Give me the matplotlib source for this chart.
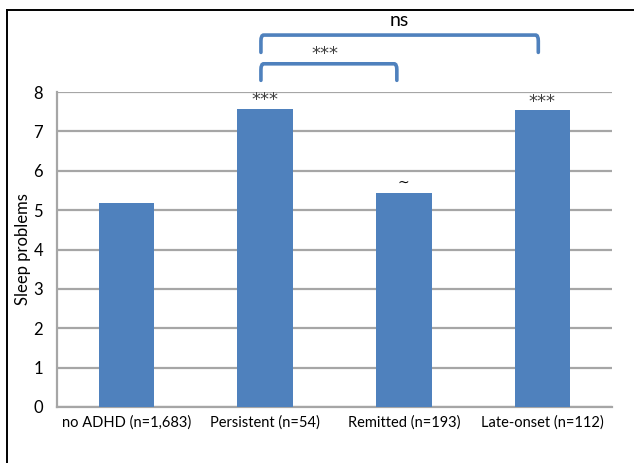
import matplotlib
matplotlib.use("Agg")
import matplotlib.pyplot as plt
from matplotlib.lines import Line2D
from matplotlib.path import Path
from matplotlib.patches import PathPatch

plt.rcParams['font.family'] = ['Lato', 'DejaVu Sans']

GROUPS = ["no ADHD (n=1,683)", "Persistent (n=54)",
          "Remitted (n=193)", "Late-onset (n=112)"]
SLEEP = [5.18, 7.58, 5.44, 7.55]
MARKS = ["", "***", "~", "***"]

# pairwise comparisons: (left group, right group, label)
PAIRS = [(1, 2, "***"), (1, 3, "ns")]

BLUE = "#4f81bd"
GRID = "#a6a6a6"
STAR_FONT = ['DejaVu Sans']


def bracket(ax, x0, x1, y_top, drop, r):
    """rounded bracket opening downwards"""
    verts = [(x0, y_top - drop), (x0, y_top - r * 0.6),
             (x0, y_top), (x0 + r * 0.08, y_top),
             (x1 - r * 0.08, y_top),
             (x1, y_top), (x1, y_top - r * 0.6),
             (x1, y_top - drop)]
    codes = [Path.MOVETO, Path.LINETO, Path.CURVE3, Path.CURVE3,
             Path.LINETO, Path.CURVE3, Path.CURVE3, Path.LINETO]
    ax.add_patch(PathPatch(Path(verts, codes), fill=False, ec=BLUE,
                           lw=2.6, clip_on=False, capstyle='round'))


def main():
    fig = plt.figure(figsize=(6.34, 4.63), dpi=100)
    ax = fig.add_axes([0.09, 0.121, 0.875, 0.68])

    x = range(len(GROUPS))
    ax.bar(x, SLEEP, width=0.4, color=BLUE, zorder=3)
    for i, (v, m) in enumerate(zip(SLEEP, MARKS)):
        if m == "~":
            ax.text(i, v + 0.08, m, ha='center', va='bottom',
                    fontsize=10, family=STAR_FONT)
        elif m:
            ax.text(i, v - 0.02, m, ha='center', va='bottom',
                    fontsize=13, family=STAR_FONT, color='#404040')

    ax.set_xlim(-0.5, 3.5)
    ax.set_ylim(0, 8)
    ax.set_yticks(range(9))
    ax.set_xticks(list(x))
    ax.set_xticklabels(GROUPS)
    ax.tick_params(length=0, labelsize=10.5, pad=6)
    ax.tick_params(axis='y', labelsize=12, pad=10)
    ax.yaxis.grid(True, color=GRID, lw=1.6, zorder=0)
    ax.set_axisbelow(True)
    for s in ["top", "right"]:
        ax.spines[s].set_visible(False)
    for s in ["left", "bottom"]:
        ax.spines[s].set_color(GRID)
        ax.spines[s].set_linewidth(1.6)
    ax.set_ylabel("Sleep problems", fontsize=12, labelpad=2)

    # comparison brackets above the plot
    bracket(ax, PAIRS[0][0] - 0.03, PAIRS[0][1] - 0.05, 8.72, 0.42, 0.25)
    ax.text((PAIRS[0][0] + PAIRS[0][1]) / 2 - 0.07, 8.75, PAIRS[0][2],
            ha='center', va='bottom', fontsize=13, family=STAR_FONT,
            color='#404040')
    bracket(ax, PAIRS[1][0] - 0.03, PAIRS[1][1] - 0.03, 9.45, 0.44, 0.25)
    ax.text((PAIRS[1][0] + PAIRS[1][1]) / 2 - 0.03, 9.6, PAIRS[1][2],
            ha='center', va='bottom', fontsize=14)

    # frame lines at top and left
    fig.add_artist(Line2D([7 / 634, 1], [1 - 10 / 463] * 2, color='black', lw=1.4))
    fig.add_artist(Line2D([7 / 634] * 2, [0, 1 - 10 / 463], color='black', lw=1.4))

    fig.savefig("out.png", dpi=100)


main()
